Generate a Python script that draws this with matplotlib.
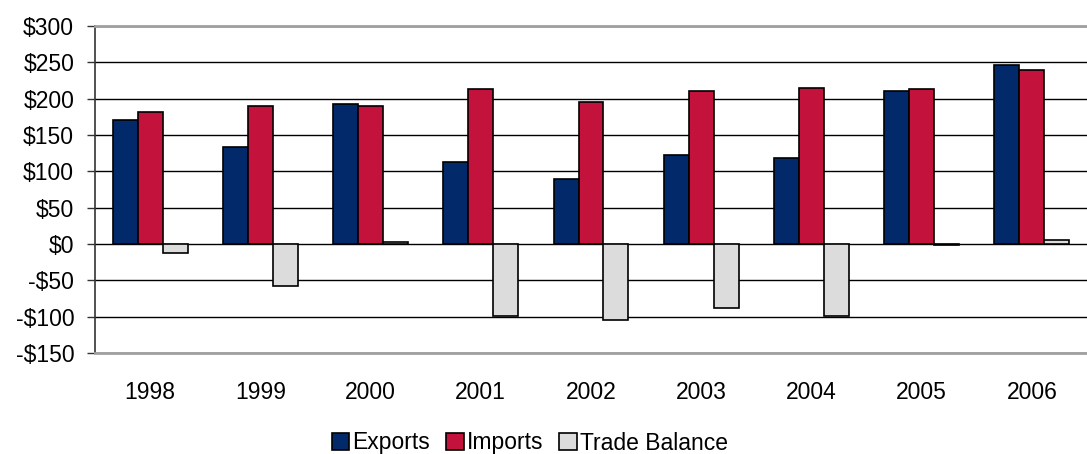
import numpy as np
import matplotlib
matplotlib.use("Agg")
import matplotlib.pyplot as plt
from matplotlib.ticker import FuncFormatter

plt.rcParams['font.family'] = ['Liberation Sans', 'DejaVu Sans']

# trade figures, billions of dollars
years = ['1998', '1999', '2000', '2001', '2002', '2003', '2004', '2005', '2006']
exports = [170, 134, 192, 113, 89, 123, 118, 210, 247]
imports = [182, 190, 190, 213, 195, 210, 215, 213, 240]
balance = [-13, -58, 3, -99, -105, -88, -99, -2, 6]

series = [('Exports', exports, '#022A6B'),
          ('Imports', imports, '#C3133C'),
          ('Trade Balance', balance, '#DCDCDC')]

fig = plt.figure(figsize=(10.87, 4.54), dpi=100)
ax = fig.add_axes([95 / 1087, 1 - 353 / 454, 992 / 1087, 327 / 454])

x = np.arange(len(years))
w = 0.68 / 3
for i, (name, vals, col) in enumerate(series):
    ax.bar(x + (i - 1) * w, vals, w, color=col, edgecolor='black',
           linewidth=1.2, label=name, zorder=3)

ax.set_xlim(-0.5, len(years) - 0.5)
ax.set_ylim(-150, 300)
ax.set_yticks(np.arange(-150, 301, 50))
ax.yaxis.set_major_formatter(FuncFormatter(
    lambda v, p: ('-$%d' % -v) if v < 0 else ('$%d' % v)))
ax.set_xticks(x)
ax.set_xticklabels(years)

ax.grid(axis='y', color='black', linewidth=1, zorder=0)
ax.tick_params(axis='x', length=0, pad=20, labelsize=16.5)
ax.tick_params(axis='y', length=6, width=1, pad=9, labelsize=16.5,
               color='#333333')

for side in ['top', 'bottom']:
    ax.spines[side].set_color('#a0a0a0')
    ax.spines[side].set_linewidth(2)
ax.spines['left'].set_color('#333333')
ax.spines['left'].set_linewidth(1.2)
ax.spines['right'].set_visible(False)

fig.legend(loc='center', bbox_to_anchor=(530 / 1087, 1 - 443 / 454), ncol=3,
           frameon=False, fontsize=16.5, handlelength=0.75, handleheight=0.75,
           handletextpad=0.15, columnspacing=0.7, borderpad=0)

fig.savefig('out.png', dpi=100)
